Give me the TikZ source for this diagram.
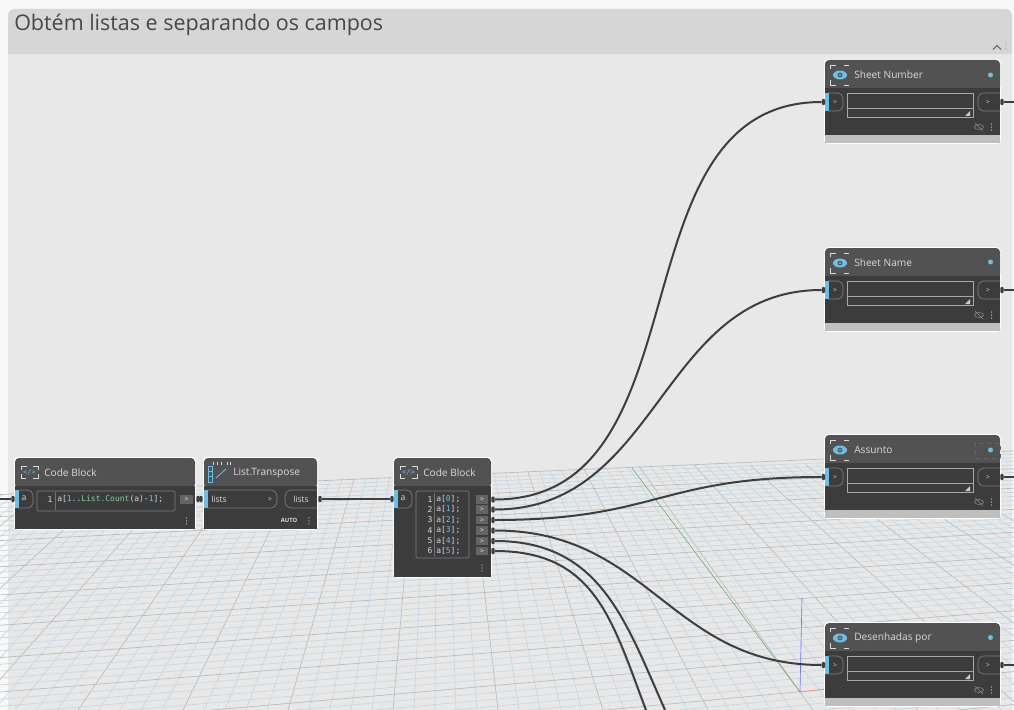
\documentclass[tikz,border=0pt]{standalone}
\usepackage{fontspec}
\setmainfont{Open Sans}
\setmonofont{DejaVu Sans Mono}
\definecolor{bgout}{HTML}{F8F8F8}
\definecolor{grp}{HTML}{E8E8E8}
\definecolor{grphead}{HTML}{D6D6D6}
\definecolor{nhead}{HTML}{525252}
\definecolor{nbody}{HTML}{3C3C3C}
\definecolor{wirec}{HTML}{3E3E3E}
\definecolor{portb}{HTML}{6AC0E7}
\definecolor{ntext}{HTML}{DADADA}
\definecolor{gmaj}{HTML}{B8BABC}
\definecolor{gmin}{HTML}{C8D6E0}
\definecolor{outb}{HTML}{646464}
\definecolor{codeb}{HTML}{6AC0E7}
\definecolor{codeg}{HTML}{7FD0A0}
\definecolor{dimf}{HTML}{7E7E7E}
\definecolor{boxf}{HTML}{A8A8A8}
\tikzset{
 x=0.75pt,y=-0.75pt,
 wire/.style={draw=wirec,line width=1.5pt},
 ttl/.style={text=ntext,font=\fontsize{7.6}{9}\selectfont,anchor=west,inner sep=0pt},
 lbl/.style={text=ntext,font=\fontsize{6.4}{8}\selectfont,inner sep=0pt},
 cod/.style={text=ntext,font=\ttfamily\fontsize{6}{7}\selectfont,inner sep=0pt},
 frm/.style={draw=dimf,line width=0.5pt},
 bxf/.style={draw=boxf,line width=0.6pt},
 pin/.style={fill=wirec,draw=none,inner sep=0pt,minimum width=2.6pt,minimum height=4.5pt,rectangle,rounded corners=0.8pt},
 icon/.style={draw=ntext,line width=0.5pt},
 gmajl/.style={draw=gmaj,line width=0.5pt},
 gminl/.style={draw=gmin,line width=0.5pt},
 outbtn/.style={fill=outb,draw=none,minimum width=9.5pt,minimum height=6.2pt,inner sep=0pt,text=white,font=\fontsize{5}{6}\selectfont},
}
\newcommand{\watchnode}[3]{%
 \fill[white,rounded corners=3pt] (824,#2-1) rectangle (1001,#2+84);
 \fill[nhead,rounded corners=3pt] (825,#2) rectangle (1000,#2+30);
 \fill[nhead] (825,#2+15) rectangle (1000,#2+30);
 \fill[nbody] (825,#2+28) rectangle (1000,#2+75);
 \fill[black!25] (825,#2+75) rectangle (1000,#2+83);
 \draw[icon] (830,#2+9)--(830,#2+5)--(836,#2+5) (844,#2+5)--(849,#2+5) (830,#2+20)--(830,#2+25)--(836,#2+25) (844,#2+25)--(849,#2+25);
 \fill[portb] (840,#2+15) ellipse (7 and 4.5);
 \fill[nhead] (840,#2+15) circle (2.4);
 \fill[portb] (840,#2+15) circle (1.2);
 \node[ttl] (#1t) at (854,#2+15) {#3};
 \fill[portb] (825,#2+33) rectangle (828.5,#2+51);
 \draw[frm,rounded corners=4pt] (828,#2+33)--(843,#2+33)--(843,#2+51)--(828,#2+51);
 \node[lbl,font=\fontsize{5}{6}\selectfont] at (835,#2+42) {>};
 \draw[bxf] (847,#2+33) rectangle (973,#2+57);
 \draw[bxf] (847,#2+48)--(973,#2+48);
 \fill[black!20] (965,#2+56) -- (970,#2+56) -- (970,#2+51) -- cycle;
 \draw[frm,rounded corners=4pt] (1000,#2+33)--(978,#2+33)--(978,#2+51)--(1000,#2+51);
 \node[lbl,font=\fontsize{5}{6}\selectfont] at (988,#2+42) {>};
 \fill[ntext] (991.5,#2+64) circle (0.6) (991.5,#2+67) circle (0.6) (991.5,#2+70) circle (0.6);
 \draw[black!45,line width=0.4pt] (979,#2+67) ellipse (4.5 and 2.5) (975,#2+63)--(983,#2+71);
 \node[pin] (#1i) at (823.5,#2+42) {};
 \node[pin] (#1o) at (1002,#2+42) {};
 \coordinate (#1x) at (1014,#2+42);
 \draw[wire] (#1o)--(#1x);
}
\begin{document}
\begin{tikzpicture}
\useasboundingbox (0,0) rectangle (1014,710);
\fill[bgout] (0,0) rectangle (1014,710);
\fill[grp,rounded corners=5pt] (8,9) rectangle (1012,720);
\fill[grphead,rounded corners=5pt] (8,9) rectangle (1012,40);
\fill[grphead] (8,25) rectangle (1012,54);
\node[anchor=west,inner sep=0pt,text=black!72,font=\fontsize{16.1}{19}\selectfont] (grouptitle) at (14,25) {Obtém listas e separando os campos};
\draw[black!55,line width=0.9pt] (993,49.5)--(997,45.5)--(1001,49.5);
\foreach \yy in {43,46,49}{\fill[black!40] (1006,\yy) circle (0.7);}
% grid
\begin{scope}
\clip (0,494) -- (1014,450) -- (1014,710) -- (0,710) -- cycle;
\foreach \k in {-50,...,60}{
  \pgfmathsetmacro{\bx}{78+\k*21}
  \pgfmathsetmacro{\tx}{438+(\bx-438)*0.5333}
  \pgfmathtruncatemacro{\mm}{mod(\k+100,5)}
  \ifnum\mm=0 \draw[gmajl] (\tx,465)--(\bx,710);
  \else \draw[gminl] (\tx,465)--(\bx,710); \fi
}
\foreach \k in {0,...,52}{
  \pgfmathsetmacro{\yc}{473+3.8*\k+0.0375*\k*\k}
  \pgfmathsetmacro{\sl}{(\yc-265)/4830}
  \pgfmathsetmacro{\yl}{\yc+500*\sl}
  \pgfmathsetmacro{\yr}{\yc-514*\sl}
  \pgfmathtruncatemacro{\mm}{mod(\k,5)}
  \ifnum\mm=0 \draw[gmajl] (0,\yl)--(1014,\yr);
  \else \draw[gminl] (0,\yl)--(1014,\yr); \fi
}
\end{scope}
% axes
\draw[blue!55,line width=0.5pt] (802,598)--(800,692);
\draw[green!45!black!60,line width=0.4pt] (632,468)--(800,692);
\draw[red!50,line width=0.4pt] (800,692)--(825,689);
% left code block
\fill[white,rounded corners=3pt] (14,457) rectangle (196,530);
\fill[nhead,rounded corners=3pt] (15,458) rectangle (195,488);
\fill[nbody] (15,486) rectangle (195,529);
\fill[portb] (15,490) rectangle (18.5,508);
\draw[frm,rounded corners=4pt] (18,490)--(33,490)--(33,508)--(18,508);
\node[lbl] (la) at (24,498.5) {a};
\draw[frm,rounded corners=1pt] (37,491) rectangle (175,511);
\node[cod] (l1n) at (50,499.5) {1};
\draw[black!55,line width=0.4pt] (55,492)--(55,510);
\node[cod,anchor=west] (l1c) at (57,499.5) {a[\textcolor{codeb}{1}..\textcolor{codeg}{List.Count}(a)-\textcolor{codeb}{1}];};
\node[outbtn] (lo) at (186.5,499.5) {>};
\fill[ntext] (186.5,518) circle (0.6) (186.5,521) circle (0.6) (186.5,524) circle (0.6);
\draw[icon] (21,470)--(21,466)--(27,466) (33,466)--(38,466)--(38,470) (21,474)--(21,478)--(26,478) (33,478)--(38,478)--(38,474);
\node[font=\ttfamily\fontsize{5.2}{6}\selectfont,text=portb,inner sep=0pt] (l1i) at (29.5,472) {</>};
\node[ttl] (l1t) at (44,472.5) {Code Block};
% transpose
\fill[white,rounded corners=3pt] (203,457) rectangle (318,530);
\fill[nhead,rounded corners=3pt] (204,458) rectangle (317,488);
\fill[nbody] (204,486) rectangle (317,529);
\fill[portb] (204,490) rectangle (207.5,508);
\draw[frm,rounded corners=5pt] (207,490)--(277,490)--(277,508)--(207,508);
\node[lbl,anchor=west] (tli) at (211,499) {lists};
\node[lbl,font=\fontsize{5}{6}\selectfont] at (270,499) {>};
\draw[frm,rounded corners=5pt] (317,490)--(285,490)--(285,508)--(317,508);
\node[lbl,anchor=west] (tlo) at (293,499) {lists};
\node[lbl,font=\fontsize{4.4}{5}\selectfont\bfseries] (auto) at (289,520) {AUTO};
\fill[ntext] (309,518) circle (0.6) (309,521) circle (0.6) (309,524) circle (0.6);
\draw[portb,line width=0.6pt] (208,466) rectangle (212,482) (208,471)--(212,471) (208,476)--(212,476);
\draw[portb,line width=0.6pt] (216,478)--(226,469);
\draw[ntext,line width=0.6pt] (213,462)--(213,465) (217,462)--(217,465) (221,462)--(221,465) (227,462)--(227,465) (230,462)--(230,465);
\node[ttl] (ttt) at (233,472.5) {List.Transpose};
% middle code block
\fill[white,rounded corners=3pt] (393,457) rectangle (492,578);
\fill[nhead,rounded corners=3pt] (394,458) rectangle (491,488);
\fill[nbody] (394,486) rectangle (491,577);
\fill[portb] (394,490) rectangle (397.5,508);
\draw[frm,rounded corners=4pt] (397,490)--(412,490)--(412,508)--(397,508);
\node[lbl] (ma) at (403,498.5) {a};
\draw[frm,rounded corners=1pt] (416,491) rectangle (469,558);
\draw[black!55,line width=0.4pt] (434,493)--(434,556);
\foreach \n/\d/\yy in {1/0/499.5,2/1/509.5,3/2/520,4/3/530.5,5/4/541,6/5/551}{
 \node[cod] (mn\n) at (430,\yy) {\n};
 \node[cod,anchor=west] (mc\n) at (436,\yy) {a[\textcolor{codeb}{\d}];};
 \node[outbtn] (mo\n) at (482,\yy) {>};
 \node[pin] (mp\n) at (493,\yy) {};
}
\fill[ntext] (482,565) circle (0.6) (482,568) circle (0.6) (482,571) circle (0.6);
\draw[icon] (400,470)--(400,466)--(406,466) (412,466)--(417,466)--(417,470) (400,474)--(400,478)--(405,478) (412,478)--(417,478)--(417,474);
\node[font=\ttfamily\fontsize{5.2}{6}\selectfont,text=portb,inner sep=0pt] (m1i) at (408.5,472) {</>};
\node[ttl] (m1t) at (423,472.5) {Code Block};
% watch nodes
\watchnode{sn}{60}{Sheet Number}
\watchnode{sh}{248}{Sheet Name}
\watchnode{as}{435}{Assunto}
\watchnode{de}{623}{Desenhadas por}
\draw[black!60,dashed,line width=0.35pt] (975,443) rectangle (1000,458);
\fill[portb] (990.5,75) circle (2.5);
\fill[portb] (990.5,262) circle (2.5);
\fill[portb] (990.5,450) circle (2.5);
\fill[portb] (990.5,637.5) circle (2.5);
% wires
\coordinate (inl) at (0,499);
\coordinate (b1) at (646,710);
\coordinate (b2) at (665,710);
\node[pin] (lin) at (13,499) {};
\node[pin] (lout) at (198,499) {};
\node[pin] (tin) at (201,499) {};
\node[pin] (tout) at (320,499) {};
\node[pin] (min) at (392,499) {};
\draw[wire] (inl)--(lin);
\draw[wire] (lout)--(tin);
\draw[wire] (tout)--(min);
\draw[wire] (mp1) .. controls (710,499.5) and (610,102) .. (sni);
\draw[wire] (mp2) .. controls (660,509.5) and (660,290) .. (shi);
\draw[wire] (mp3) .. controls (656,520) and (660,477) .. (asi);
\draw[wire] (mp4) .. controls (650,530.5) and (670,665) .. (dei);
\draw[wire] (mp5) .. controls (600,541) and (625,620) .. (b2);
\draw[wire] (mp6) .. controls (595,551) and (612,620) .. (b1);
\end{tikzpicture}
\end{document}
